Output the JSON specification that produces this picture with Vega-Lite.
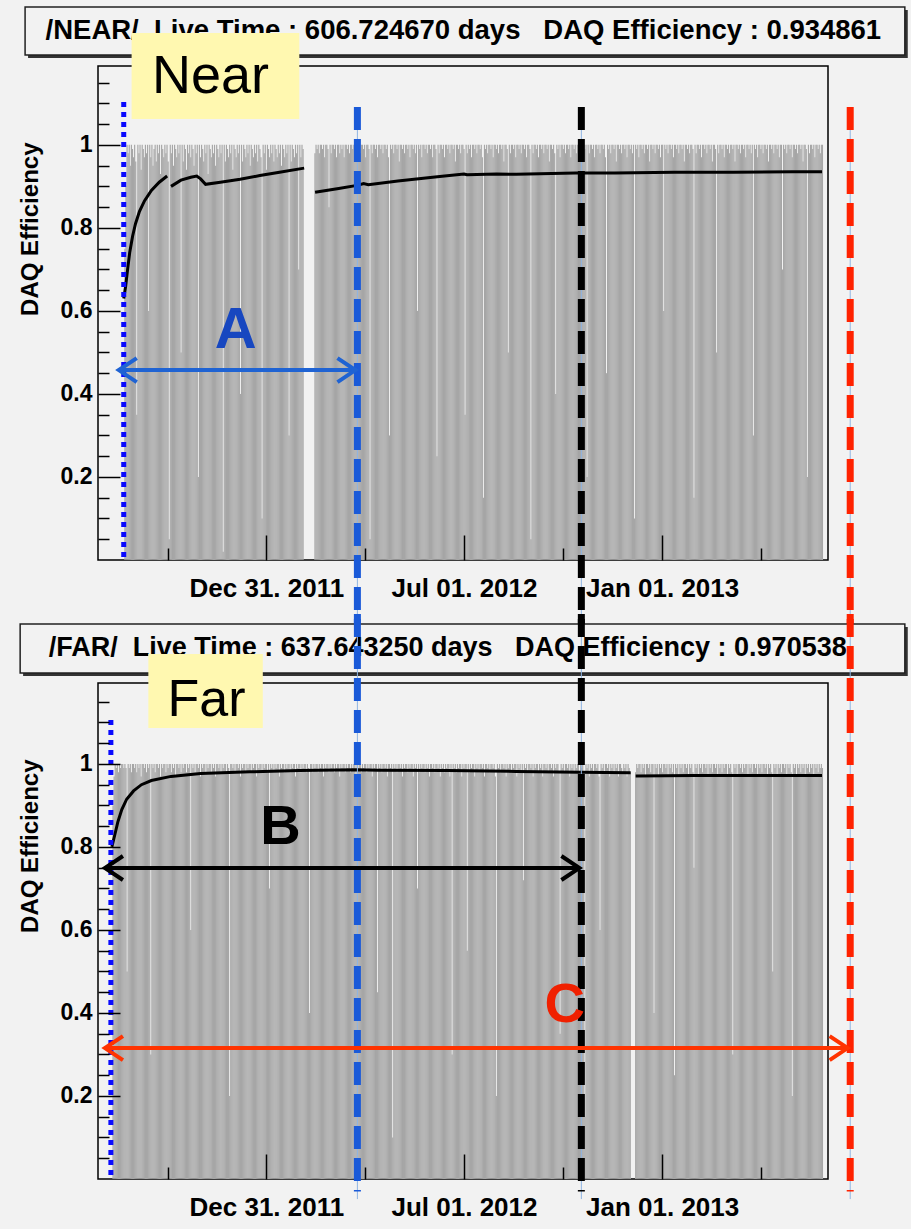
{
"$schema": "https://vega.github.io/schema/vega-lite/v6.json",
"background": "#f2f2f2",
"padding": {"left": 17, "top": 5, "right": 2, "bottom": 12},
"bounds": "flush",
"spacing": 123,
"config": {"font": "Liberation Sans", "view": {"stroke": "#000", "strokeWidth": 1.5}},
"datasets": {
"days": [
{"d":10,"f":0.9},{"d":11,"f":0.97},{"d":12,"f":1},{"d":13,"f":0.99},{"d":14,"f":1},{"d":15,"f":0.98},{"d":16,"f":1},{"d":17,"f":0.99},{"d":18,"f":1},{"d":19,"f":1},{"d":20,"f":0.99},
{"d":21,"n":0.75,"f":1},{"d":22,"n":0.9,"f":0.99},{"d":23,"n":1,"f":0.5},{"d":24,"n":0.98,"f":1},{"d":25,"n":1,"f":0.99},{"d":26,"n":0.95,"f":1},{"d":27,"n":1,"f":0.98},{"d":28,"n":0.99,"f":1},{"d":29,"n":0.97,"f":1},{"d":30,"n":1,"f":0.99},
{"d":31,"n":0.96,"f":1},{"d":32,"n":0.35,"f":0.98},{"d":33,"n":1,"f":1},{"d":34,"n":0.98,"f":0.99},{"d":35,"n":1,"f":1},{"d":36,"n":0.94,"f":0.97},{"d":37,"n":1,"f":1},{"d":38,"n":0.99,"f":1},{"d":39,"n":0.97,"f":0.99},{"d":40,"n":1,"f":1},
{"d":41,"n":0.98,"f":0.98},{"d":42,"n":1,"f":1},{"d":43,"n":0.6,"f":0.99},{"d":44,"n":1,"f":1},{"d":45,"n":0.97,"f":0.3},{"d":46,"n":1,"f":1},{"d":47,"n":0.95,"f":0.99},{"d":48,"n":0.99,"f":1},{"d":49,"n":1,"f":0.98},{"d":50,"n":0.96,"f":1},
{"d":51,"n":1,"f":1},{"d":52,"n":0.98,"f":0.99},{"d":53,"n":1,"f":1},{"d":54,"n":0.93,"f":0.97},{"d":55,"n":1,"f":1},{"d":56,"n":0.99,"f":0.99},{"d":57,"n":0.97,"f":1},{"d":58,"n":1,"f":1},{"d":59,"n":0.98,"f":0.98},{"d":60,"n":1,"f":1},
{"d":61,"n":0.96,"f":0.99},{"d":62,"n":0.05,"f":1},{"d":63,"n":1,"f":1},{"d":64,"n":0.98,"f":0.98},{"d":65,"n":1,"f":1},{"d":66,"n":0.95,"f":0.99},{"d":67,"n":1,"f":1},{"d":68,"n":0.99,"f":0.97},{"d":69,"n":0.97,"f":1},{"d":70,"n":1,"f":1},
{"d":71,"n":0.98,"f":0.99},{"d":72,"n":1,"f":1},{"d":73,"n":0.5,"f":0.98},{"d":74,"n":1,"f":1},{"d":75,"n":0.96,"f":0.99},{"d":76,"n":1,"f":1},{"d":77,"n":0.99,"f":1},{"d":78,"n":0.94,"f":0.98},{"d":79,"n":1,"f":1},{"d":80,"n":0.98,"f":0.99},
{"d":81,"n":1,"f":1},{"d":82,"n":0.97,"f":0.6},{"d":83,"n":1,"f":1},{"d":84,"n":0.99,"f":0.99},{"d":85,"n":0.95,"f":1},{"d":86,"n":1,"f":0.98},{"d":87,"n":0.98,"f":1},{"d":88,"n":1,"f":1},{"d":89,"n":0.2,"f":0.99},{"d":90,"n":1,"f":1},
{"d":91,"n":0.97,"f":0.97},{"d":92,"n":1,"f":1},{"d":93,"n":0.99,"f":0.99},{"d":94,"n":0.96,"f":1},{"d":95,"n":1,"f":1},{"d":96,"n":0.98,"f":0.98},{"d":97,"n":1,"f":1},{"d":98,"n":0.93,"f":0.99},{"d":99,"n":1,"f":1},{"d":100,"n":0.99,"f":1},
{"d":101,"n":0.97,"f":0.98},{"d":102,"n":1,"f":1},{"d":103,"n":0.98,"f":0.99},{"d":104,"n":1,"f":1},{"d":105,"n":0.95,"f":0.97},{"d":106,"n":1,"f":1},{"d":107,"n":0.99,"f":1},{"d":108,"n":0.97,"f":0.99},{"d":109,"n":1,"f":1},{"d":110,"n":0.98,"f":0.98},
{"d":111,"n":1,"f":1},{"d":112,"n":0.02,"f":0.99},{"d":113,"n":1,"f":1},{"d":114,"n":0.96,"f":1},{"d":115,"n":1,"f":0.98},{"d":116,"n":0.99,"f":1},{"d":117,"n":0.97,"f":0.99},{"d":118,"n":1,"f":0.2},{"d":119,"n":0.98,"f":1},{"d":120,"n":1,"f":1},
{"d":121,"n":0.94,"f":0.99},{"d":122,"n":1,"f":1},{"d":123,"n":0.99,"f":0.98},{"d":124,"n":0.97,"f":1},{"d":125,"n":1,"f":1},{"d":126,"n":0.98,"f":0.99},{"d":127,"n":1,"f":1},{"d":128,"n":0.4,"f":0.97},{"d":129,"n":1,"f":1},{"d":130,"n":0.96,"f":0.99},
{"d":131,"n":1,"f":1},{"d":132,"n":0.99,"f":1},{"d":133,"n":0.97,"f":0.98},{"d":134,"n":1,"f":1},{"d":135,"n":0.98,"f":0.99},{"d":136,"n":1,"f":1},{"d":137,"n":0.95,"f":1},{"d":138,"n":1,"f":0.98},{"d":139,"n":0.99,"f":1},{"d":140,"n":0.97,"f":0.99},
{"d":141,"n":1,"f":1},{"d":142,"n":0.98,"f":1},{"d":143,"n":1,"f":0.97},{"d":144,"n":0.96,"f":1},{"d":145,"n":1,"f":0.99},{"d":146,"n":0.99,"f":1},{"d":147,"n":0.97,"f":1},{"d":148,"n":0.1,"f":0.98},{"d":149,"n":1,"f":1},{"d":150,"n":0.98,"f":0.99},
{"d":151,"n":1,"f":1},{"d":152,"n":0.94,"f":1},{"d":153,"n":1,"f":0.98},{"d":154,"n":0.99,"f":1},{"d":155,"n":0.97,"f":0.7},{"d":156,"n":1,"f":1},{"d":157,"n":0.98,"f":0.99},{"d":158,"n":1,"f":1},{"d":159,"n":0.96,"f":0.98},{"d":160,"n":1,"f":1},
{"d":161,"n":0.99,"f":0.99},{"d":162,"n":0.97,"f":1},{"d":163,"n":1,"f":1},{"d":164,"n":0.98,"f":0.97},{"d":165,"n":1,"f":1},{"d":166,"n":0.95,"f":0.99},{"d":167,"n":1,"f":1},{"d":168,"n":0.99,"f":1},{"d":169,"n":0.97,"f":0.98},{"d":170,"n":1,"f":1},
{"d":171,"n":0.98,"f":0.99},{"d":172,"n":1,"f":1},{"d":173,"n":0.3,"f":1},{"d":174,"n":1,"f":0.98},{"d":175,"n":0.96,"f":1},{"d":176,"n":1,"f":0.99},{"d":177,"n":0.99,"f":1},{"d":178,"n":0.97,"f":1},{"d":179,"n":1,"f":0.97},{"d":180,"n":0.98,"f":1},
{"d":181,"n":1,"f":0.99},{"d":182,"n":0.7,"f":1},{"d":183,"n":1,"f":1},{"d":184,"n":0.97,"f":0.98},{"d":185,"n":1,"f":1},{"d":186,"n":0.99,"f":0.99},{"d":187,"f":1},{"d":188,"f":1},{"d":189,"f":0.98},{"d":190,"f":1},
{"d":191,"f":0.99},{"d":192,"f":0.4},{"d":193,"f":1},{"d":194,"f":1},{"d":195,"f":0.98},{"d":196,"f":1},{"d":197,"n":0.98,"f":0.99},{"d":198,"n":1,"f":1},{"d":199,"n":0.99,"f":1},{"d":200,"n":1,"f":0.98},
{"d":201,"n":0.98,"f":1},{"d":202,"n":1,"f":0.99},{"d":203,"n":1,"f":1},{"d":204,"n":0.99,"f":1},{"d":205,"n":1,"f":0.97},{"d":206,"n":0.97,"f":1},{"d":207,"n":1,"f":0.99},{"d":208,"n":1,"f":1},{"d":209,"n":0.99,"f":1},{"d":210,"n":0.85,"f":0.98},
{"d":211,"n":1,"f":1},{"d":212,"n":0.98,"f":0.99},{"d":213,"n":1,"f":1},{"d":214,"n":1,"f":1},{"d":215,"n":0.99,"f":0.98},{"d":216,"n":1,"f":1},{"d":217,"n":0.97,"f":0.99},{"d":218,"n":1,"f":1},{"d":219,"n":1,"f":1},{"d":220,"n":0.98,"f":0.97},
{"d":221,"n":1,"f":1},{"d":222,"n":0.99,"f":0.99},{"d":223,"n":1,"f":1},{"d":224,"n":0.97,"f":1},{"d":225,"n":1,"f":0.98},{"d":226,"n":1,"f":1},{"d":227,"n":0.99,"f":0.99},{"d":228,"n":1,"f":1},{"d":229,"n":0.98,"f":1},{"d":230,"n":1,"f":0.98},
{"d":231,"n":1,"f":1},{"d":232,"n":0.99,"f":0.99},{"d":233,"n":1,"f":1},{"d":234,"n":0.96,"f":1},{"d":235,"n":1,"f":0.97},{"d":236,"n":1,"f":1},{"d":237,"n":0.99,"f":0.99},{"d":238,"n":1,"f":1},{"d":239,"n":0.98,"f":1},{"d":240,"n":1,"f":0.98},
{"d":241,"n":1,"f":1},{"d":242,"n":0.99,"f":0.99},{"d":243,"n":1,"f":1},{"d":244,"n":0.97,"f":1},{"d":245,"n":1,"f":0.98},{"d":246,"n":1,"f":1},{"d":247,"n":0.99,"f":0.99},{"d":248,"n":0.05,"f":1},{"d":249,"n":1,"f":1},{"d":250,"n":0.98,"f":0.97},
{"d":251,"n":1,"f":1},{"d":252,"n":1,"f":0.99},{"d":253,"n":0.99,"f":1},{"d":254,"n":1,"f":1},{"d":255,"n":0.97,"f":0.45},{"d":256,"n":1,"f":1},{"d":257,"n":1,"f":0.99},{"d":258,"n":0.99,"f":1},{"d":259,"n":1,"f":0.98},{"d":260,"n":0.98,"f":1},
{"d":261,"n":1,"f":1},{"d":262,"n":1,"f":0.99},{"d":263,"n":0.99,"f":1},{"d":264,"n":1,"f":0.97},{"d":265,"n":0.97,"f":1},{"d":266,"n":0.3,"f":1},{"d":267,"n":1,"f":0.99},{"d":268,"n":0.99,"f":1},{"d":269,"n":1,"f":0.1},{"d":270,"n":0.98,"f":1},
{"d":271,"n":1,"f":0.99},{"d":272,"n":1,"f":1},{"d":273,"n":0.99,"f":0.98},{"d":274,"n":1,"f":1},{"d":275,"n":0.96,"f":1},{"d":276,"n":1,"f":0.99},{"d":277,"n":1,"f":1},{"d":278,"n":0.99,"f":0.97},{"d":279,"n":1,"f":1},{"d":280,"n":0.98,"f":0.99},
{"d":281,"n":1,"f":1},{"d":282,"n":1,"f":1},{"d":283,"n":0.99,"f":0.98},{"d":284,"n":1,"f":1},{"d":285,"n":0.97,"f":0.99},{"d":286,"n":1,"f":1},{"d":287,"n":1,"f":1},{"d":288,"n":0.99,"f":0.97},{"d":289,"n":1,"f":1},{"d":290,"n":0.98,"f":0.99},
{"d":291,"n":1,"f":1},{"d":292,"n":0.6,"f":0.7},{"d":293,"n":1,"f":1},{"d":294,"n":0.99,"f":0.98},{"d":295,"n":1,"f":1},{"d":296,"n":0.97,"f":0.99},{"d":297,"n":1,"f":1},{"d":298,"n":1,"f":1},{"d":299,"n":0.99,"f":0.98},{"d":300,"n":1,"f":1},
{"d":301,"n":0.98,"f":0.99},{"d":302,"n":1,"f":1},{"d":303,"n":1,"f":0.97},{"d":304,"n":0.99,"f":1},{"d":305,"n":1,"f":1},{"d":306,"n":0.97,"f":0.99},{"d":307,"n":1,"f":1},{"d":308,"n":1,"f":0.98},{"d":309,"n":0.99,"f":1},{"d":310,"n":0.25,"f":1},
{"d":311,"n":1,"f":0.99},{"d":312,"n":0.98,"f":1},{"d":313,"n":1,"f":0.97},{"d":314,"n":1,"f":1},{"d":315,"n":0.99,"f":0.99},{"d":316,"n":1,"f":1},{"d":317,"n":0.97,"f":0.98},{"d":318,"n":1,"f":1},{"d":319,"n":1,"f":0.99},{"d":320,"n":0.99,"f":1},
{"d":321,"n":1,"f":1},{"d":322,"n":0.98,"f":0.97},{"d":323,"n":1,"f":1},{"d":324,"n":1,"f":0.3},{"d":325,"n":0.99,"f":1},{"d":326,"n":1,"f":0.99},{"d":327,"n":0.96,"f":1},{"d":328,"n":1,"f":0.98},{"d":329,"n":1,"f":1},{"d":330,"n":0.99,"f":0.99},
{"d":331,"n":1,"f":1},{"d":332,"n":0.98,"f":1},{"d":333,"n":1,"f":0.97},{"d":334,"n":1,"f":1},{"d":335,"n":0.99,"f":0.99},{"d":336,"n":0.35,"f":1},{"d":337,"n":1,"f":1},{"d":338,"n":0.98,"f":0.55},{"d":339,"n":1,"f":1},{"d":340,"n":0.99,"f":0.98},
{"d":341,"n":1,"f":1},{"d":342,"n":0.97,"f":0.99},{"d":343,"n":1,"f":1},{"d":344,"n":1,"f":1},{"d":345,"n":0.99,"f":0.97},{"d":346,"n":1,"f":1},{"d":347,"n":0.98,"f":0.99},{"d":348,"n":1,"f":1},{"d":349,"n":1,"f":0.98},{"d":350,"n":0.99,"f":1},
{"d":351,"n":1,"f":1},{"d":352,"n":0.97,"f":0.99},{"d":353,"n":0.15,"f":1},{"d":354,"n":1,"f":0.97},{"d":355,"n":0.99,"f":1},{"d":356,"n":1,"f":1},{"d":357,"n":0.98,"f":0.99},{"d":358,"n":1,"f":1},{"d":359,"n":1,"f":0.98},{"d":360,"n":0.99,"f":1},
{"d":361,"n":1,"f":1},{"d":362,"n":0.97,"f":0.99},{"d":363,"n":1,"f":1},{"d":364,"n":1,"f":0.97},{"d":365,"n":0.99,"f":0.2},{"d":366,"n":1,"f":1},{"d":367,"n":0.98,"f":0.99},{"d":368,"n":1,"f":1},{"d":369,"n":1,"f":0.98},{"d":370,"n":0.99,"f":1},
{"d":371,"n":1,"f":1},{"d":372,"n":0.96,"f":0.99},{"d":373,"n":1,"f":1},{"d":374,"n":1,"f":0.97},{"d":375,"n":0.99,"f":1},{"d":376,"n":0.5,"f":0.99},{"d":377,"n":1,"f":1},{"d":378,"n":0.98,"f":1},{"d":379,"n":1,"f":0.98},{"d":380,"n":1,"f":1},
{"d":381,"n":0.99,"f":0.99},{"d":382,"n":1,"f":1},{"d":383,"n":0.97,"f":1},{"d":384,"n":1,"f":0.97},{"d":385,"n":1,"f":1},{"d":386,"n":0.99,"f":0.99},{"d":387,"n":1,"f":1},{"d":388,"n":0.98,"f":0.98},{"d":389,"n":1,"f":1},{"d":390,"n":1,"f":0.72},
{"d":391,"n":0.99,"f":1},{"d":392,"n":1,"f":0.99},{"d":393,"n":0.97,"f":1},{"d":394,"n":1,"f":0.98},{"d":395,"n":1,"f":1},{"d":396,"n":0.99,"f":1},{"d":397,"n":0.05,"f":0.99},{"d":398,"n":1,"f":1},{"d":399,"n":0.98,"f":0.97},{"d":400,"n":1,"f":1},
{"d":401,"n":1,"f":0.99},{"d":402,"n":0.99,"f":1},{"d":403,"n":1,"f":1},{"d":404,"n":0.97,"f":0.98},{"d":405,"n":1,"f":1},{"d":406,"n":1,"f":0.99},{"d":407,"n":0.99,"f":1},{"d":408,"n":1,"f":0.97},{"d":409,"n":0.98,"f":1},{"d":410,"n":1,"f":1},
{"d":411,"n":1,"f":0.99},{"d":412,"n":0.99,"f":1},{"d":413,"n":1,"f":0.98},{"d":414,"n":0.96,"f":1},{"d":415,"n":1,"f":1},{"d":416,"n":1,"f":0.99},{"d":417,"n":0.99,"f":1},{"d":418,"n":1,"f":0.97},{"d":419,"n":0.98,"f":1},{"d":420,"n":0.4,"f":0.99},
{"d":421,"n":1,"f":1},{"d":422,"n":0.99,"f":1},{"d":423,"n":1,"f":0.98},{"d":424,"n":0.97,"f":0.35},{"d":425,"n":1,"f":1},{"d":426,"n":1,"f":0.99},{"d":427,"n":0.99,"f":1},{"d":428,"n":1,"f":0.98},{"d":429,"n":0.98,"f":1},{"d":430,"n":1,"f":1},
{"d":431,"n":1,"f":0.99},{"d":432,"n":0.99,"f":1},{"d":433,"n":1,"f":0.97},{"d":434,"n":0.97,"f":1},{"d":435,"n":1,"f":0.99},{"d":436,"n":1,"f":1},{"d":437,"n":0.99,"f":0.98},{"d":438,"n":1,"f":1},{"d":439,"n":0.98,"f":0.99},{"d":440,"n":1,"f":1},
{"d":441,"n":1,"f":1},{"d":442,"n":0.99,"f":0.97},{"d":443,"n":1,"f":1},{"d":444,"n":0.96,"f":0.99},{"d":445,"n":1,"f":1},{"d":446,"n":1,"f":0.98},{"d":447,"n":0.99,"f":0.15},{"d":448,"n":1,"f":1},{"d":449,"n":0.2,"f":0.99},{"d":450,"n":1,"f":1},
{"d":451,"n":0.98,"f":0.97},{"d":452,"n":1,"f":1},{"d":453,"n":1,"f":0.99},{"d":454,"n":0.99,"f":1},{"d":455,"n":1,"f":0.98},{"d":456,"n":0.97,"f":1},{"d":457,"n":1,"f":1},{"d":458,"n":1,"f":0.99},{"d":459,"n":0.99,"f":1},{"d":460,"n":1,"f":0.97},
{"d":461,"n":0.98,"f":0.6},{"d":462,"n":1,"f":1},{"d":463,"n":1,"f":0.99},{"d":464,"n":0.99,"f":1},{"d":465,"n":1,"f":0.98},{"d":466,"n":0.97,"f":1},{"d":467,"n":0.45,"f":1},{"d":468,"n":1,"f":0.99},{"d":469,"n":0.99,"f":1},{"d":470,"n":1,"f":0.97},
{"d":471,"n":0.98,"f":1},{"d":472,"n":1,"f":0.99},{"d":473,"n":1,"f":1},{"d":474,"n":0.99,"f":0.98},{"d":475,"n":1,"f":1},{"d":476,"n":0.96,"f":0.99},{"d":477,"n":1,"f":1},{"d":478,"n":1,"f":0.97},{"d":479,"n":0.99,"f":1},{"d":480,"n":1,"f":1},
{"d":481,"n":0.98,"f":0.99},{"d":482,"n":1,"f":0.98},{"d":483,"n":1,"f":1},{"d":484,"n":0.99,"f":0.99},{"d":485,"n":1,"f":1},{"d":486,"n":0.97,"f":0.97},{"d":487,"n":1,"f":1},{"d":488,"n":1,"f":0.99},{"d":489,"n":0.99,"f":0.98},{"d":490,"n":1},
{"d":491,"n":0.98},{"d":492,"n":1},{"d":493,"n":0.1},{"d":494,"n":1,"f":0.98},{"d":495,"n":0.99,"f":1},{"d":496,"n":1,"f":0.99},{"d":497,"n":0.97,"f":1},{"d":498,"n":1,"f":1},{"d":499,"n":1,"f":0.98},{"d":500,"n":0.99,"f":1},
{"d":501,"n":1,"f":0.99},{"d":502,"n":0.98,"f":1},{"d":503,"n":1,"f":0.97},{"d":504,"n":1,"f":1},{"d":505,"n":0.99,"f":1},{"d":506,"n":1,"f":0.99},{"d":507,"n":0.96,"f":1},{"d":508,"n":1,"f":0.98},{"d":509,"n":1,"f":1},{"d":510,"n":0.99,"f":1},
{"d":511,"n":1,"f":0.4},{"d":512,"n":0.98,"f":1},{"d":513,"n":1,"f":0.99},{"d":514,"n":1,"f":1},{"d":515,"n":0.99,"f":0.97},{"d":516,"n":1,"f":1},{"d":517,"n":0.97,"f":0.99},{"d":518,"n":1,"f":1},{"d":519,"n":1,"f":0.98},{"d":520,"n":0.6,"f":1},
{"d":521,"n":1,"f":1},{"d":522,"n":0.99,"f":0.99},{"d":523,"n":1,"f":1},{"d":524,"n":0.98,"f":0.97},{"d":525,"n":1,"f":1},{"d":526,"n":1,"f":0.99},{"d":527,"n":0.99,"f":1},{"d":528,"n":1,"f":0.98},{"d":529,"n":0.97,"f":1},{"d":530,"n":1,"f":0.25},
{"d":531,"n":1,"f":1},{"d":532,"n":0.99,"f":0.99},{"d":533,"n":1,"f":1},{"d":534,"n":0.98,"f":0.97},{"d":535,"n":1,"f":1},{"d":536,"n":1,"f":0.99},{"d":537,"n":0.99,"f":1},{"d":538,"n":1,"f":0.98},{"d":539,"n":0.96,"f":1},{"d":540,"n":1,"f":1},
{"d":541,"n":1,"f":0.99},{"d":542,"n":0.99,"f":1},{"d":543,"n":1,"f":0.97},{"d":544,"n":0.98,"f":1},{"d":545,"n":1,"f":0.99},{"d":546,"n":1,"f":1},{"d":547,"n":0.99,"f":0.98},{"d":548,"n":0.15,"f":0.75},{"d":549,"n":1,"f":1},{"d":550,"n":0.98,"f":0.99},
{"d":551,"n":1,"f":1},{"d":552,"n":1,"f":0.97},{"d":553,"n":0.99,"f":1},{"d":554,"n":1,"f":0.99},{"d":555,"n":0.97,"f":1},{"d":556,"n":1,"f":0.98},{"d":557,"n":1,"f":1},{"d":558,"n":0.99,"f":1},{"d":559,"n":1,"f":0.99},{"d":560,"n":0.98,"f":1},
{"d":561,"n":1,"f":0.97},{"d":562,"n":1,"f":1},{"d":563,"n":0.99,"f":0.99},{"d":564,"n":1,"f":1},{"d":565,"n":0.96,"f":0.98},{"d":566,"n":1,"f":1},{"d":567,"n":1,"f":1},{"d":568,"n":0.99,"f":0.99},{"d":569,"n":0.5,"f":1},{"d":570,"n":1,"f":0.97},
{"d":571,"n":0.98,"f":1},{"d":572,"n":1,"f":0.99},{"d":573,"n":1,"f":1},{"d":574,"n":0.99,"f":0.98},{"d":575,"n":1,"f":1},{"d":576,"n":0.97,"f":0.99},{"d":577,"n":1,"f":1},{"d":578,"n":1,"f":1},{"d":579,"n":0.99,"f":0.97},{"d":580,"n":1,"f":1},
{"d":581,"n":0.98,"f":0.99},{"d":582,"n":1,"f":1},{"d":583,"n":1,"f":0.98},{"d":584,"n":0.99,"f":0.3},{"d":585,"n":1,"f":1},{"d":586,"n":0.96,"f":0.99},{"d":587,"n":1,"f":1},{"d":588,"n":1,"f":0.97},{"d":589,"n":0.99,"f":1},{"d":590,"n":1,"f":1},
{"d":591,"n":0.98,"f":0.99},{"d":592,"n":1,"f":1},{"d":593,"n":1,"f":0.98},{"d":594,"n":0.99,"f":1},{"d":595,"n":1,"f":0.99},{"d":596,"n":0.97,"f":1},{"d":597,"n":1,"f":1},{"d":598,"n":1,"f":0.97},{"d":599,"n":0.99,"f":1},{"d":600,"n":1,"f":0.99},
{"d":601,"n":0.98,"f":1},{"d":602,"n":1,"f":0.98},{"d":603,"n":0.3,"f":1},{"d":604,"n":1,"f":1},{"d":605,"n":0.99,"f":0.99},{"d":606,"n":1,"f":1},{"d":607,"n":0.97,"f":0.97},{"d":608,"n":1,"f":1},{"d":609,"n":1,"f":0.99},{"d":610,"n":0.99,"f":1},
{"d":611,"n":1,"f":0.98},{"d":612,"n":0.98,"f":1},{"d":613,"n":1,"f":1},{"d":614,"n":1,"f":0.99},{"d":615,"n":0.99,"f":1},{"d":616,"n":1,"f":0.97},{"d":617,"n":0.96,"f":1},{"d":618,"n":1,"f":0.99},{"d":619,"n":1,"f":1},{"d":620,"n":0.99,"f":0.98},
{"d":621,"n":1,"f":0.5},{"d":622,"n":0.98,"f":1},{"d":623,"n":1,"f":0.99},{"d":624,"n":1,"f":1},{"d":625,"n":0.99,"f":0.97},{"d":626,"n":1,"f":1},{"d":627,"n":0.97,"f":0.99},{"d":628,"n":1,"f":1},{"d":629,"n":1,"f":0.98},{"d":630,"n":0.7,"f":1},
{"d":631,"n":1,"f":1},{"d":632,"n":0.99,"f":0.99},{"d":633,"n":1,"f":1},{"d":634,"n":0.98,"f":0.97},{"d":635,"n":1,"f":1},{"d":636,"n":1,"f":0.99},{"d":637,"n":0.99,"f":1},{"d":638,"n":1,"f":0.98},{"d":639,"n":0.97,"f":0.2},{"d":640,"n":1,"f":1},
{"d":641,"n":1,"f":0.99},{"d":642,"n":0.99,"f":1},{"d":643,"n":1,"f":0.97},{"d":644,"n":0.98,"f":1},{"d":645,"n":1,"f":0.99},{"d":646,"n":1,"f":1},{"d":647,"n":0.99,"f":0.98},{"d":648,"n":1,"f":1},{"d":649,"n":0.96,"f":0.99},{"d":650,"n":1,"f":1},
{"d":651,"n":1,"f":0.97},{"d":652,"n":0.99,"f":1},{"d":653,"n":0.2,"f":0.99},{"d":654,"n":1,"f":1},{"d":655,"n":0.98,"f":0.98},{"d":656,"n":1,"f":1},{"d":657,"n":1,"f":0.99},{"d":658,"n":0.99,"f":1},{"d":659,"n":1,"f":0.97},{"d":660,"n":0.97,"f":1},
{"d":661,"n":1,"f":0.99},{"d":662,"n":1,"f":1},{"d":663,"n":0.99,"f":0.98},{"d":664,"n":1,"f":1},{"d":665,"n":0.98,"f":0.99},{"d":666,"n":1,"f":1},{"d":667,"n":1,"f":0.99}
],
"nc": [
{"d":19.9,"c":0.63,"s":1},{"d":21.7,"c":0.66,"s":1},{"d":23.5,"c":0.7,"s":1},{"d":25.4,"c":0.74,"s":1},{"d":28.1,"c":0.78,"s":1},{"d":30.8,"c":0.81,"s":1},{"d":34.5,"c":0.84,"s":1},{"d":39.1,"c":0.865,"s":1},{"d":45.5,"c":0.89,"s":1},{"d":52.8,"c":0.91,"s":1},{"d":60.1,"c":0.925,"s":1},
{"d":63.7,"c":0.9,"s":2},{"d":72.9,"c":0.915,"s":2},{"d":82,"c":0.922,"s":2},{"d":87.5,"c":0.925,"s":2},{"d":91.1,"c":0.918,"s":2},{"d":95.7,"c":0.905,"s":2},{"d":109.4,"c":0.91,"s":2},{"d":127.7,"c":0.917,"s":2},{"d":146,"c":0.926,"s":2},{"d":164.2,"c":0.934,"s":2},{"d":187,"c":0.944,"s":2},
{"d":197.1,"c":0.886,"s":3},{"d":219,"c":0.895,"s":3},{"d":237.3,"c":0.903,"s":3},{"d":242,"c":0.907,"s":3},{"d":246.4,"c":0.904,"s":3},{"d":273.8,"c":0.913,"s":3},{"d":310.3,"c":0.923,"s":3},{"d":335,"c":0.93,"s":3},{"d":337.8,"c":0.928,"s":3},{"d":365.2,"c":0.93,"s":3},{"d":383.4,"c":0.929,"s":3},{"d":438.2,"c":0.932,"s":3},{"d":474.8,"c":0.932,"s":3},{"d":529.6,"c":0.934,"s":3},{"d":584.4,"c":0.934,"s":3},{"d":639.2,"c":0.935,"s":3},{"d":666.6,"c":0.935,"s":3}
],
"fc": [
{"d":8.9,"c":0.8,"s":1},{"d":11.7,"c":0.83,"s":1},{"d":14.4,"c":0.86,"s":1},{"d":18.1,"c":0.89,"s":1},{"d":22.6,"c":0.915,"s":1},{"d":29,"c":0.935,"s":1},{"d":36.3,"c":0.95,"s":1},{"d":45.5,"c":0.96,"s":1},{"d":63.7,"c":0.97,"s":1},{"d":91.1,"c":0.977,"s":1},{"d":136.8,"c":0.981,"s":1},{"d":182.5,"c":0.984,"s":1},{"d":235.4,"c":0.986,"s":1},{"d":255.5,"c":0.985,"s":1},{"d":319.5,"c":0.984,"s":1},{"d":383.4,"c":0.982,"s":1},{"d":442.8,"c":0.98,"s":1},{"d":489.4,"c":0.979,"s":1},
{"d":494,"c":0.971,"s":2},{"d":547.8,"c":0.972,"s":2},{"d":602.6,"c":0.972,"s":2},{"d":666.6,"c":0.972,"s":2}
]
},
"vconcat": [
{
"width": 730, "height": 494,
"resolve": {"axis": {"x": "independent", "y": "independent"}},
"layer": [
{"data": {"name": "days"},
 "mark": {"type": "bar", "orient": "vertical", "width": 1.15, "color": "#a6a6a6"},
 "encoding": {
  "x": {"field": "d", "type": "quantitative", "scale": {"domain": [0.7, 667.5], "nice": false, "zero": false},
   "axis": {"orient": "bottom", "values": [152, 335, 518.5], "labelExpr": "datum.value == 152 ? 'Dec 31. 2011' : datum.value == 335 ? 'Jul 01. 2012' : 'Jan 01. 2013'",
    "tickSize": 25, "offset": -25, "tickColor": "#000", "tickWidth": 1.5, "labelPadding": 15, "labelFontSize": 26, "labelFontWeight": "bold", "labelColor": "#000", "labelFont": "Liberation Sans",
    "domain": false, "grid": false, "title": null, "zindex": 1, "labelOverlap": false, "labelFlush": false, "labelBound": false}},
  "y": {"field": "n", "type": "quantitative", "scale": {"domain": [0, 1.19], "nice": false, "zero": false},
   "axis": {"orient": "left", "values": [0.2, 0.4, 0.6, 0.8, 1], "format": ".1~f",
    "tickSize": 22, "offset": -22, "tickColor": "#000", "tickWidth": 1.5, "labelPadding": 6, "labelFontSize": 23, "labelFontWeight": "bold", "labelColor": "#000", "labelFont": "Liberation Sans",
    "domain": false, "grid": false, "zindex": 1, "labelOverlap": false, "labelFlush": false, "labelBound": false,
    "title": "DAQ Efficiency", "titleFont": "Liberation Sans", "titleFontSize": 24, "titleFontWeight": "bold", "titleColor": "#000", "titlePadding": 18, "titleY": 76, "titleAlign": "right", "titleAngle": 270}}
 }},
{"data": {"name": "nc"},
 "mark": {"type": "line", "color": "#000", "strokeWidth": 3},
 "encoding": {
  "x": {"field": "d", "type": "quantitative", "axis": {"orient": "bottom", "values": [61, 243.5, 426.75, 610], "labels": false, "tickSize": 12, "offset": -12, "tickColor": "#000", "tickWidth": 1.5, "domain": false, "grid": false, "title": null, "zindex": 1}},
  "y": {"field": "c", "type": "quantitative", "axis": {"orient": "left", "values": [0.05,0.1,0.15,0.25,0.3,0.35,0.45,0.5,0.55,0.65,0.7,0.75,0.85,0.9,0.95,1.05,1.1,1.15], "labels": false, "tickSize": 11, "offset": -11, "tickColor": "#000", "tickWidth": 1.5, "domain": false, "grid": false, "title": null, "zindex": 1}},
  "detail": {"field": "s"}}},
{"data": {"values": [{}]},
 "mark": {"type": "rect", "color": "#333", "clip": false},
 "encoding": {"x": {"datum": -68.7, "axis": null}, "x2": {"datum": 746}, "y": {"datum": 1.325, "axis": null}, "y2": {"datum": 1.2093}}},
{"data": {"values": [{}]},
 "mark": {"type": "rect", "fill": "#f2f2f2", "stroke": "#222", "strokeWidth": 1.5, "clip": false},
 "encoding": {"x": {"datum": -71.46, "axis": null}, "x2": {"datum": 743.3}, "y": {"datum": 1.3322, "axis": null}, "y2": {"datum": 1.2165}}},
{"data": {"values": [{"t": "/NEAR/\u00a0 Live Time : 606.724670 days \u00a0 DAQ Efficiency : 0.934861"}]},
 "mark": {"type": "text", "font": "Liberation Sans", "fontSize": 27.5, "fontWeight": "bold", "color": "#000", "align": "left", "baseline": "middle", "clip": false},
 "encoding": {"x": {"datum": -52.5, "axis": null}, "y": {"datum": 1.2743, "axis": null}, "text": {"field": "t"}}},
{"data": {"values": [{}]},
 "mark": {"type": "rect", "color": "#fff8b0", "clip": false},
 "encoding": {"x": {"datum": 27.2, "axis": null}, "x2": {"datum": 182.5}, "y": {"datum": 1.2695, "axis": null}, "y2": {"datum": 1.0623}}},
{"data": {"values": [{"t": "Near"}]},
 "mark": {"type": "text", "font": "Liberation Sans", "fontSize": 54, "color": "#000", "align": "center", "baseline": "middle", "clip": false},
 "encoding": {"x": {"datum": 100.3, "axis": null}, "y": {"datum": 1.1635, "axis": null}, "text": {"field": "t"}}},
{"data": {"values": [{"d": 19.9}]},
 "mark": {"type": "rule", "color": "#0a0aff", "strokeWidth": 5, "strokeDash": [5, 5], "clip": false},
 "encoding": {"x": {"field": "d", "type": "quantitative", "axis": null}, "y": {"datum": 1.1033, "axis": null}, "y2": {"datum": 0}}},
{"data": {"values": [{"d": 236.3}, {"d": 443.7}, {"d": 692.7}]},
 "mark": {"type": "rule", "color": "#8eb4e3", "strokeWidth": 1, "clip": false},
 "encoding": {"x": {"field": "d", "type": "quantitative", "axis": null}, "y": {"datum": 1.0912, "axis": null}, "y2": {"datum": -0.1618}}},
{"data": {"values": [{"d": 236.3}]},
 "mark": {"type": "rule", "color": "#1a5ad8", "strokeWidth": 7, "strokeDash": [23, 9], "clip": false},
 "encoding": {"x": {"field": "d", "type": "quantitative", "axis": null}, "y": {"datum": 1.0912, "axis": null}, "y2": {"datum": -0.1618}}},
{"data": {"values": [{"d": 443.7}]},
 "mark": {"type": "rule", "color": "#000000", "strokeWidth": 7, "strokeDash": [23, 9], "clip": false},
 "encoding": {"x": {"field": "d", "type": "quantitative", "axis": null}, "y": {"datum": 1.0912, "axis": null}, "y2": {"datum": -0.1618}}},
{"data": {"values": [{"d": 692.7}]},
 "mark": {"type": "rule", "color": "#ff2200", "strokeWidth": 7, "strokeDash": [23, 9], "clip": false},
 "encoding": {"x": {"field": "d", "type": "quantitative", "axis": null}, "y": {"datum": 1.0912, "axis": null}, "y2": {"datum": -0.1618}}},
{"data": {"values": [{"s": 15.3, "e": 234.5}]},
 "mark": {"type": "rule", "color": "#1f63d3", "strokeWidth": 4, "clip": false},
 "encoding": {"x": {"field": "s", "type": "quantitative", "axis": null}, "x2": {"field": "e"}, "y": {"datum": 0.4575, "axis": null}}},
{"data": {"values": [{"s": 15.3, "e": 234.5}]},
 "mark": {"type": "point", "shape": "M1.5,-1L0,0L1.5,1", "filled": false, "size": 576, "color": "#1f63d3", "strokeWidth": 4, "opacity": 1, "clip": false},
 "encoding": {"x": {"field": "s", "type": "quantitative", "axis": null}, "y": {"datum": 0.4575, "axis": null}}},
{"data": {"values": [{"s": 15.3, "e": 234.5}]},
 "mark": {"type": "point", "shape": "M-1.5,-1L0,0L-1.5,1", "filled": false, "size": 576, "color": "#1f63d3", "strokeWidth": 4, "opacity": 1, "clip": false},
 "encoding": {"x": {"field": "e", "type": "quantitative", "axis": null}, "y": {"datum": 0.4575, "axis": null}}},
{"data": {"values": [{"t": "A"}]},
 "mark": {"type": "text", "font": "Liberation Sans", "fontSize": 58, "fontWeight": "bold", "color": "#1747c0", "align": "center", "baseline": "middle", "clip": false},
 "encoding": {"x": {"datum": 123.6, "axis": null}, "y": {"datum": 0.5514, "axis": null}, "text": {"field": "t"}}}
]
},
{
"width": 730, "height": 496,
"resolve": {"axis": {"x": "independent", "y": "independent"}},
"layer": [
{"data": {"name": "days"},
 "mark": {"type": "bar", "orient": "vertical", "width": 1.15, "color": "#a6a6a6"},
 "encoding": {
  "x": {"field": "d", "type": "quantitative", "scale": {"domain": [0.7, 667.5], "nice": false, "zero": false},
   "axis": {"orient": "bottom", "values": [152, 335, 518.5], "labelExpr": "datum.value == 152 ? 'Dec 31. 2011' : datum.value == 335 ? 'Jul 01. 2012' : 'Jan 01. 2013'",
    "tickSize": 25, "offset": -25, "tickColor": "#000", "tickWidth": 1.5, "labelPadding": 15, "labelFontSize": 26, "labelFontWeight": "bold", "labelColor": "#000", "labelFont": "Liberation Sans",
    "domain": false, "grid": false, "title": null, "zindex": 1, "labelOverlap": false, "labelFlush": false, "labelBound": false}},
  "y": {"field": "f", "type": "quantitative", "scale": {"domain": [0, 1.195], "nice": false, "zero": false},
   "axis": {"orient": "left", "values": [0.2, 0.4, 0.6, 0.8, 1], "format": ".1~f",
    "tickSize": 22, "offset": -22, "tickColor": "#000", "tickWidth": 1.5, "labelPadding": 6, "labelFontSize": 23, "labelFontWeight": "bold", "labelColor": "#000", "labelFont": "Liberation Sans",
    "domain": false, "grid": false, "zindex": 1, "labelOverlap": false, "labelFlush": false, "labelBound": false,
    "title": "DAQ Efficiency", "titleFont": "Liberation Sans", "titleFontSize": 24, "titleFontWeight": "bold", "titleColor": "#000", "titlePadding": 18, "titleY": 76, "titleAlign": "right", "titleAngle": 270}}
 }},
{"data": {"name": "fc"},
 "mark": {"type": "line", "color": "#000", "strokeWidth": 3},
 "encoding": {
  "x": {"field": "d", "type": "quantitative", "axis": {"orient": "bottom", "values": [61, 243.5, 426.75, 610], "labels": false, "tickSize": 12, "offset": -12, "tickColor": "#000", "tickWidth": 1.5, "domain": false, "grid": false, "title": null, "zindex": 1}},
  "y": {"field": "c", "type": "quantitative", "axis": {"orient": "left", "values": [0.05,0.1,0.15,0.25,0.3,0.35,0.45,0.5,0.55,0.65,0.7,0.75,0.85,0.9,0.95,1.05,1.1,1.15], "labels": false, "tickSize": 11, "offset": -11, "tickColor": "#000", "tickWidth": 1.5, "domain": false, "grid": false, "title": null, "zindex": 1}},
  "detail": {"field": "s"}}},
{"data": {"values": [{}]},
 "mark": {"type": "rect", "color": "#333", "clip": false},
 "encoding": {"x": {"datum": -73.3, "axis": null}, "x2": {"datum": 746}, "y": {"datum": 1.33, "axis": null}, "y2": {"datum": 1.2119}}},
{"data": {"values": [{}]},
 "mark": {"type": "rect", "fill": "#f2f2f2", "stroke": "#222", "strokeWidth": 1.5, "clip": false},
 "encoding": {"x": {"datum": -76.03, "axis": null}, "x2": {"datum": 743.3}, "y": {"datum": 1.3372, "axis": null}, "y2": {"datum": 1.2191}}},
{"data": {"values": [{"t": "/FAR/\u00a0 Live Time : 637.643250 days \u00a0 DAQ Efficiency : 0.970538"}]},
 "mark": {"type": "text", "font": "Liberation Sans", "fontSize": 27, "fontWeight": "bold", "color": "#000", "align": "left", "baseline": "middle", "clip": false},
 "encoding": {"x": {"datum": -49.5, "axis": null}, "y": {"datum": 1.2793, "axis": null}, "text": {"field": "t"}}},
{"data": {"values": [{}]},
 "mark": {"type": "rect", "color": "#fff8b0", "clip": false},
 "encoding": {"x": {"datum": 42.7, "axis": null}, "x2": {"datum": 148.7}, "y": {"datum": 1.2649, "axis": null}, "y2": {"datum": 1.0866}}},
{"data": {"values": [{"t": "Far"}]},
 "mark": {"type": "text", "font": "Liberation Sans", "fontSize": 52, "color": "#000", "align": "center", "baseline": "middle", "clip": false},
 "encoding": {"x": {"datum": 96.6, "axis": null}, "y": {"datum": 1.154, "axis": null}, "text": {"field": "t"}}},
{"data": {"values": [{"d": 8.0}]},
 "mark": {"type": "rule", "color": "#0a0aff", "strokeWidth": 5, "strokeDash": [5, 5], "clip": false},
 "encoding": {"x": {"field": "d", "type": "quantitative", "axis": null}, "y": {"datum": 1.1058, "axis": null}, "y2": {"datum": 0}}},
{"data": {"values": [{"d": 236.3}, {"d": 443.7}, {"d": 692.7}]},
 "mark": {"type": "rule", "color": "#8eb4e3", "strokeWidth": 1, "clip": false},
 "encoding": {"x": {"field": "d", "type": "quantitative", "axis": null}, "y": {"datum": 1.3613, "axis": null}, "y2": {"datum": -0.0484}}},
{"data": {"values": [{"d": 236.3}]},
 "mark": {"type": "rule", "color": "#1a5ad8", "strokeWidth": 7, "strokeDash": [23, 9], "clip": false},
 "encoding": {"x": {"field": "d", "type": "quantitative", "axis": null}, "y": {"datum": 1.3613, "axis": null}, "y2": {"datum": -0.03}}},
{"data": {"values": [{"d": 443.7}]},
 "mark": {"type": "rule", "color": "#000000", "strokeWidth": 7, "strokeDash": [23, 9], "clip": false},
 "encoding": {"x": {"field": "d", "type": "quantitative", "axis": null}, "y": {"datum": 1.3613, "axis": null}, "y2": {"datum": -0.03}}},
{"data": {"values": [{"d": 692.7}]},
 "mark": {"type": "rule", "color": "#ff2200", "strokeWidth": 7, "strokeDash": [23, 9], "clip": false},
 "encoding": {"x": {"field": "d", "type": "quantitative", "axis": null}, "y": {"datum": 1.3613, "axis": null}, "y2": {"datum": -0.03}}},
{"data": {"values": [{"s": 2.5, "e": 441.9}]},
 "mark": {"type": "rule", "color": "#000", "strokeWidth": 4, "clip": false},
 "encoding": {"x": {"field": "s", "type": "quantitative", "axis": null}, "x2": {"field": "e"}, "y": {"datum": 0.7492, "axis": null}}},
{"data": {"values": [{"s": 2.5, "e": 441.9}]},
 "mark": {"type": "point", "shape": "M1.5,-1L0,0L1.5,1", "filled": false, "size": 576, "color": "#000", "strokeWidth": 4, "opacity": 1, "clip": false},
 "encoding": {"x": {"field": "s", "type": "quantitative", "axis": null}, "y": {"datum": 0.7492, "axis": null}}},
{"data": {"values": [{"s": 2.5, "e": 441.9}]},
 "mark": {"type": "point", "shape": "M-1.5,-1L0,0L-1.5,1", "filled": false, "size": 576, "color": "#000", "strokeWidth": 4, "opacity": 1, "clip": false},
 "encoding": {"x": {"field": "e", "type": "quantitative", "axis": null}, "y": {"datum": 0.7492, "axis": null}}},
{"data": {"values": [{"s": 2.5, "e": 690.3}]},
 "mark": {"type": "rule", "color": "#ff3300", "strokeWidth": 4, "clip": false},
 "encoding": {"x": {"field": "s", "type": "quantitative", "axis": null}, "x2": {"field": "e"}, "y": {"datum": 0.3155, "axis": null}}},
{"data": {"values": [{"s": 2.5, "e": 690.3}]},
 "mark": {"type": "point", "shape": "M1.5,-1L0,0L1.5,1", "filled": false, "size": 576, "color": "#ff3300", "strokeWidth": 4, "opacity": 1, "clip": false},
 "encoding": {"x": {"field": "s", "type": "quantitative", "axis": null}, "y": {"datum": 0.3155, "axis": null}}},
{"data": {"values": [{"s": 2.5, "e": 690.3}]},
 "mark": {"type": "point", "shape": "M-1.5,-1L0,0L-1.5,1", "filled": false, "size": 576, "color": "#ff3300", "strokeWidth": 4, "opacity": 1, "clip": false},
 "encoding": {"x": {"field": "e", "type": "quantitative", "axis": null}, "y": {"datum": 0.3155, "axis": null}}},
{"data": {"values": [{"t": "B"}]},
 "mark": {"type": "text", "font": "Liberation Sans", "fontSize": 56, "fontWeight": "bold", "color": "#000", "align": "center", "baseline": "middle", "clip": false},
 "encoding": {"x": {"datum": 165.1, "axis": null}, "y": {"datum": 0.848, "axis": null}, "text": {"field": "t"}}},
{"data": {"values": [{"t": "C"}]},
 "mark": {"type": "text", "font": "Liberation Sans", "fontSize": 56, "fontWeight": "bold", "color": "#f02000", "align": "center", "baseline": "middle", "clip": false},
 "encoding": {"x": {"datum": 428.2, "axis": null}, "y": {"datum": 0.4191, "axis": null}, "text": {"field": "t"}}}
]
}
]
}
